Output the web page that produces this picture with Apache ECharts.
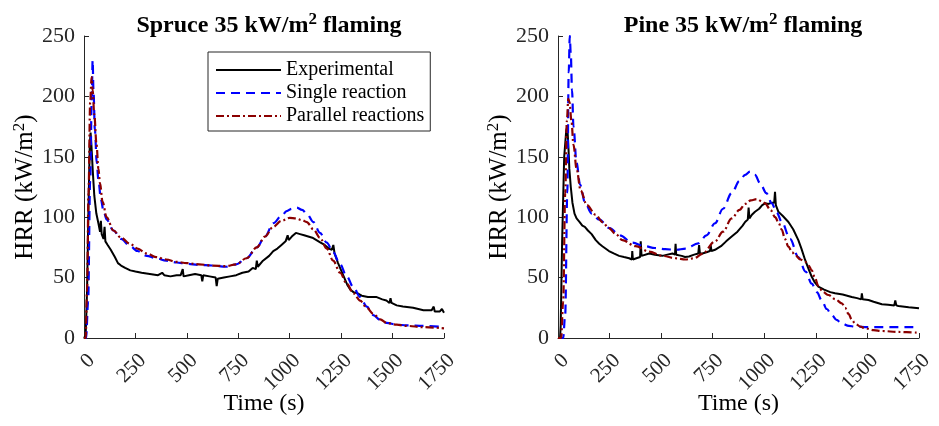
<!DOCTYPE html>
<html>
<head>
<meta charset="utf-8">
<script src="https://cdn.jsdelivr.net/npm/echarts@6/dist/echarts.min.js"></script>
<style>
  html, body { margin: 0; padding: 0; background: #fff; }
  #chart { width: 939px; height: 426px; }
</style>
</head>
<body>
<div id="chart"></div>
<script>
// Heat release rate curves, [time (s), HRR (kW/m2)]
const spruceExperimental = [[0,0],[8,2],[15,40],[22,110],[28,160],[32,170],[36,160],[42,140],[50,118],[60,103],[70,95],[78,88],[82,97],[86,86],[95,82],[100,92],[104,80],[115,77],[130,73],[150,67],[165,62],[180,60],[200,58],[225,56],[250,55],[280,54],[320,53],[360,52],[380,54],[390,52],[420,51],[450,52],[470,52],[480,57],[484,51],[510,52],[540,53],[570,52],[575,47],[580,52],[610,51],[640,50],[645,43],[650,49],[680,50],[710,51],[740,52],[770,54],[800,55],[820,58],[835,57],[840,64],[845,59],[870,64],[900,68],[920,72],[940,74],[960,77],[980,80],[990,85],[995,81],[1010,84],[1030,87],[1050,86],[1070,85],[1090,84],[1110,83],[1130,81],[1150,79],[1170,77],[1190,74],[1205,73],[1212,77],[1218,70],[1235,62],[1250,56],[1265,50],[1280,44],[1295,40],[1310,38],[1330,37],[1350,35],[1380,34],[1420,34],[1450,32],[1470,31],[1485,29],[1490,33],[1495,29],[1520,27],[1550,26],[1600,25],[1650,23],[1690,23],[1700,26],[1705,22],[1730,22],[1740,24],[1750,21]];
const spruceSingle = [[0,0],[10,0],[20,30],[30,130],[38,200],[42,230],[46,205],[53,172],[62,145],[70,131],[82,115],[94,106],[110,98],[143,89],[180,82],[224,76],[260,72],[305,68],[350,66],[400,64],[450,62.5],[500,61.5],[560,60.5],[620,60],[690,59],[740,61],[790,66],[840,75],[880,84],[920,95],[960,101],[985,105],[1010,107],[1034,108],[1060,106],[1083,103],[1115,96],[1147,87],[1180,79],[1211,71],[1245,61],[1277,51],[1310,42],[1342,34],[1375,26],[1406,19],[1440,15],[1471,12.5],[1520,11],[1569,10.5],[1650,10],[1750,9]];
const spruceParallel = [[0,0],[8,0],[15,40],[22,120],[30,195],[37,216],[42,205],[50,185],[61,160],[70,140],[78,128],[90,113],[110,100],[143,89],[180,83],[224,78],[260,74],[305,70],[350,67],[400,65],[450,63],[500,62],[560,61],[620,60],[690,59.5],[740,61],[790,66],[840,75],[880,84],[920,92],[960,97],[1000,99.5],[1030,99],[1060,97.5],[1083,96],[1115,90],[1147,83],[1180,74],[1211,64],[1245,54],[1277,45],[1310,37],[1342,31],[1375,25],[1406,20],[1440,15.5],[1471,12.5],[1520,11],[1569,10],[1650,9],[1750,8]];

const pineExperimental = [[0,0],[10,0],[13,10],[20,80],[30,150],[40,172],[45,175],[50,160],[55,140],[62,125],[70,112],[80,103],[90,99],[105,96],[118,93],[130,92],[145,89],[163,86],[183,81],[200,78],[215,76],[247,72],[270,70],[296,68],[320,67],[345,66],[358,65],[360,72],[363,65],[380,66],[398,67],[401,80],[405,68],[442,70],[470,69],[506,68],[530,69],[555,70],[567,69],[570,78],[573,69],[600,68],[616,67],[635,67.5],[660,69],[680,70],[684,77],[688,70],[700,70],[720,71],[737,72],[740,77],[744,72],[761,73],[790,76],[815,80],[842,84],[870,88],[895,93],[907,96],[920,98],[924,108],[928,99],[940,102],[955,104.5],[975,107],[990,110],[1004,111.5],[1020,111],[1036,112],[1048,112],[1052,121],[1056,110],[1068,104.6],[1090,101],[1117,96],[1140,90],[1165,81],[1180,74],[1198,64.6],[1215,57],[1230,50.7],[1245,46],[1262,42.5],[1290,40],[1320,38],[1343,37],[1380,36],[1424,34],[1450,33],[1470,32],[1473,37],[1477,32],[1505,31.4],[1530,30],[1570,28],[1600,27.5],[1630,27],[1635,31],[1640,27],[1650,26.5],[1700,25.5],[1750,24.6]];
const pineSingle = [[0,0],[25,0],[35,20],[45,120],[52,220],[57,250],[62,235],[68,205],[75,175],[90,145],[107,127],[131,112],[163,103],[200,98],[250,91],[300,85],[360,79],[420,76],[470,74.5],[520,73.5],[570,73],[620,74],[680,78.4],[720,85],[761,95],[800,107],[842,120],[880,130],[907,135],[931,137.7],[955,135],[980,128],[1010,120],[1036,111.5],[1060,104],[1085,96],[1125,82],[1165,67],[1200,55],[1230,45],[1255,38],[1279,31],[1303,24],[1327,19],[1350,15],[1376,12],[1410,10],[1440,9.4],[1500,9],[1750,9]];
const pineParallel = [[0,0],[15,0],[25,30],[35,120],[43,180],[50,198],[56,195],[65,180],[75,160],[90,140],[110,122],[140,110],[183,102],[215,96],[247,91],[280,86],[312,81],[376,76],[442,71.5],[506,68],[570,66],[618,65],[660,66],[700,69.6],[761,80],[800,88],[842,99],[880,106],[907,111],[935,114],[964,115],[990,113],[1004,111.5],[1030,106],[1053,100],[1070,95],[1085,89.6],[1100,82],[1117,75.6],[1135,71],[1149,68.7],[1175,65],[1198,63],[1215,60],[1230,56],[1245,50],[1262,43],[1285,38],[1311,35.6],[1345,32],[1376,28.7],[1392,25],[1408,20],[1425,15],[1440,12],[1465,9.5],[1489,8],[1530,6.5],[1570,5.8],[1650,5],[1750,4.4]];

const seriesNames = ['Experimental', 'Single reaction', 'Parallel reactions'];
const panelTitles = ['Spruce 35 kW/m{sup|2} flaming', 'Pine 35 kW/m{sup|2} flaming'];
const xAxisTitle = 'Time (s)';
const yAxisTitle = 'HRR (kW/m{sup|2})';
const timeRange = [0, 1750, 250];
const hrrRange = [0, 250, 50];

const FONT = "'Liberation Serif', 'Times New Roman', serif";
const AXIS_COLOR = '#262626';
const grids = [
  { left: 84, top: 36, width: 360, height: 302, outerBoundsMode: 'none', containLabel: false },
  { left: 558, top: 36, width: 361, height: 302, outerBoundsMode: 'none', containLabel: false }
];

function xAxisFor(i) {
  return {
    gridIndex: i, type: 'value',
    min: timeRange[0], max: timeRange[1], interval: timeRange[2],
    name: xAxisTitle, nameLocation: 'middle', nameGap: 54, nameMoveOverlap: false,
    nameTextStyle: { fontFamily: FONT, fontSize: 24, color: '#000' },
    axisLine: { onZero: false, lineStyle: { color: AXIS_COLOR, width: 1 } },
    axisTick: { inside: true, length: 5, lineStyle: { color: AXIS_COLOR } },
    axisLabel: { rotate: 45, margin: 12, align: 'right', verticalAlign: 'top',
      formatter: v => String(v),
      fontFamily: FONT, fontSize: 21, color: AXIS_COLOR, showMinLabel: true, showMaxLabel: true },
    splitLine: { show: false }
  };
}
function yAxisFor(i) {
  return {
    gridIndex: i, type: 'value',
    min: hrrRange[0], max: hrrRange[1], interval: hrrRange[2],
    name: yAxisTitle, nameLocation: 'middle', nameGap: 44, nameRotate: 90, nameMoveOverlap: false,
    nameTextStyle: { fontFamily: FONT, fontSize: 25, color: '#000',
      rich: { sup: { fontFamily: FONT, fontSize: 17, color: '#000', padding: [0, 0, 12, 0] } } },
    axisLine: { lineStyle: { color: AXIS_COLOR, width: 1 } },
    axisTick: { inside: true, length: 5, lineStyle: { color: AXIS_COLOR } },
    axisLabel: { margin: 9, formatter: v => String(v), fontFamily: FONT, fontSize: 22, color: AXIS_COLOR },
    splitLine: { show: false }
  };
}

const styles = [
  { color: '#000000', type: 'solid', width: 2 },
  { color: '#0000ff', type: [9, 6], width: 2.2 },
  { color: '#8b0000', type: [8, 3, 2, 3], width: 2.2 }
];

function line(i, k, data) {
  return {
    name: seriesNames[k], type: 'line', xAxisIndex: i, yAxisIndex: i,
    data: data, showSymbol: false, symbol: 'none',
    smooth: k === 0 ? false : 0.35, smoothMonotone: 'x',
    lineStyle: { color: styles[k].color, width: styles[k].width, type: styles[k].type },
    itemStyle: { color: styles[k].color },
    animation: false
  };
}

const chart = echarts.init(document.getElementById('chart'), null, { renderer: 'canvas' });
chart.setOption({
  animation: false,
  backgroundColor: '#fff',
  title: panelTitles.map((t, i) => ({
    text: t,
    left: i === 0 ? 264 : 738,
    top: 6,
    textAlign: 'center',
    textStyle: { fontFamily: FONT, fontSize: 24, fontWeight: 'bold', color: '#000',
      rich: { sup: { fontFamily: FONT, fontSize: 17, fontWeight: 'bold', color: '#000', padding: [0, 0, 12, 0] } } }
  })),
  legend: {
    data: seriesNames,
    orient: 'vertical', left: 208, top: 52,
    backgroundColor: '#fff', borderColor: AXIS_COLOR, borderWidth: 1,
    padding: [8, 6, 5, 7], itemWidth: 65, itemHeight: 12, itemGap: 3,
    itemStyle: { opacity: 0 },
    textStyle: { fontFamily: FONT, fontSize: 20, color: '#000', lineHeight: 20 }
  },
  grid: grids,
  xAxis: [xAxisFor(0), xAxisFor(1)],
  yAxis: [yAxisFor(0), yAxisFor(1)],
  series: [
    line(0, 0, spruceExperimental), line(0, 1, spruceSingle), line(0, 2, spruceParallel),
    line(1, 0, pineExperimental), line(1, 1, pineSingle), line(1, 2, pineParallel)
  ]
});
</script>
</body>
</html>
